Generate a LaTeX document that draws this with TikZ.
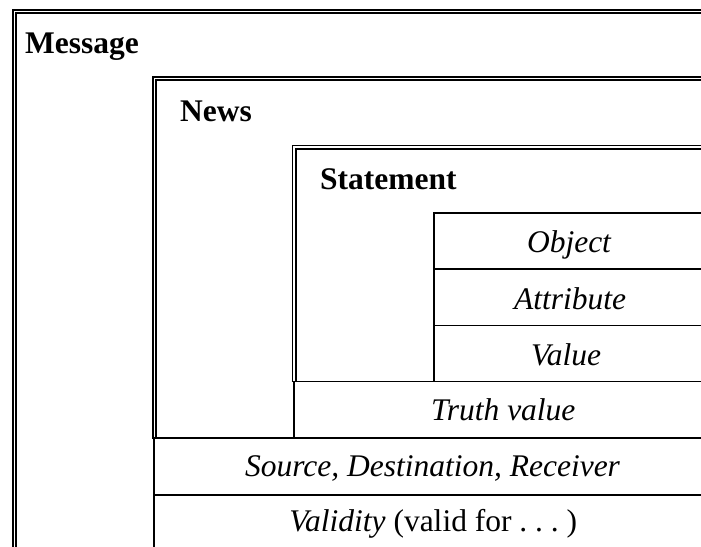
\documentclass[tikz,border=0pt]{standalone}
\usepackage{fontspec}
\setmainfont{Liberation Serif}
\begin{document}
\begin{tikzpicture}[x=1pt,y=-1pt,
  ln/.style={line width=1.8pt, line cap=butt},
  ttl/.style={anchor=base west, inner sep=0pt, font=\fontsize{31.5}{36}\selectfont\bfseries},
  fld/.style={anchor=base, inner sep=0pt, font=\fontsize{31.5}{36}\selectfont\itshape}]
\useasboundingbox (0,0) rectangle (701,546);
% Message (double frame)
\draw[ln] (712,10) -- (13,10) -- (13,560);
\draw[ln] (712,13) -- (16,13) -- (16,560);
% News (double frame)
\draw[ln] (712,77) -- (153,77) -- (153,438);
\draw[ln] (712,80) -- (156,80) -- (156,438);
% Statement (double frame)
\draw[ln] (712,145.5) -- (292.5,145.5) -- (292.5,381.5);
\draw[ln] (712,148.7) -- (295.7,148.7) -- (295.7,381.5);
\draw[ln] (291.6,381.5) -- (712,381.5);
% Object / Attribute / Value table
\draw[ln] (712,213) -- (434,213) -- (434,381.5);
\draw[ln] (434,269) -- (712,269);
\draw[ln] (434,325.5) -- (712,325.5);
% Truth value row
\draw[ln] (293.7,381.5) -- (293.7,438);
\draw[ln] (152.1,438) -- (712,438);
% Source / Validity rows
\draw[ln] (153.7,438) -- (153.7,560);
\draw[ln] (153.7,495) -- (712,495);
% texts
\node[ttl] (msg) at (25,53.3) {Message};
\node[ttl] (news) at (180,121) {News};
\node[ttl] (stmt) at (320,189.5) {Statement};
\node[fld] (obj) at (569,252.3) {Object};
\node[fld] (att) at (570,309) {Attribute};
\node[fld] (val) at (566,365) {Value};
\node[fld] (tv) at (503.3,420) {Truth value};
\node[fld] (src) at (432.5,476.7) {Source, Destination, Receiver};
\node[fld, font=\fontsize{31.5}{36}\selectfont] (vld) at (433.3,531.7) {\textit{Validity} (valid for .\hspace{0.25em}.\hspace{0.25em}.\hspace{0.25em})};
\end{tikzpicture}
\end{document}
